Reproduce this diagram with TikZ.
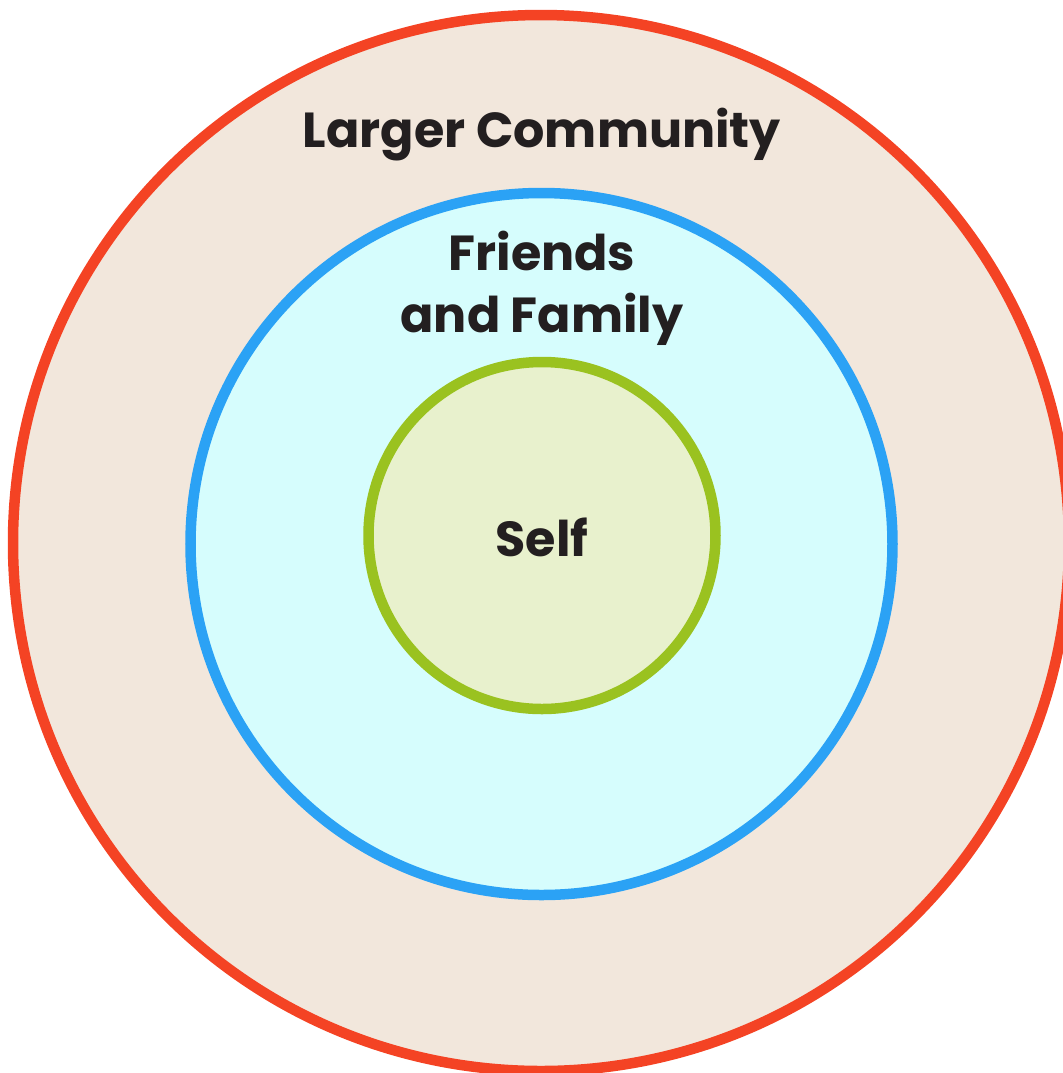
\documentclass[tikz,border=0pt]{standalone}
\usepackage{fontspec}
\setmainfont{Poppins}
\usepackage{tikz}
\usetikzlibrary{shapes.geometric, positioning}
\definecolor{commred}{HTML}{F44324}
\definecolor{commfill}{HTML}{F2E7DC}
\definecolor{famblue}{HTML}{2BA2F5}
\definecolor{famfill}{HTML}{D6FDFD}
\definecolor{selfgreen}{HTML}{9AC220}
\definecolor{selffill}{HTML}{E8F1CD}
\definecolor{textdark}{HTML}{231F20}
\tikzstyle{ring} = [circle, draw, line width=1.05mm, inner sep=0pt]
\tikzstyle{ringtext} = [font=\bfseries\fontsize{14}{17.6}\selectfont, text=textdark, align=center, anchor=base]

\begin{document}
\begin{tikzpicture}
                \useasboundingbox (0,0) rectangle (10.63,-10.73);
                \node (community) [ring, draw=commred, fill=commfill, minimum size=10.56cm] at (5.41,-5.43) {};
                \node (family) [ring, draw=famblue, fill=famfill, minimum size=7.02cm] at (5.415,-5.44) {};
                \node (self) [ring, draw=selfgreen, fill=selffill, minimum size=3.47cm] at (5.42,-5.355) {};

                \node (communitytext) [ringtext] at (5.42,-1.47) {Larger Community};
                \node (familytext) [ringtext] at (5.42,-3.32) {Friends\\and Family};
                \node (selftext) [ringtext] at (5.42,-5.56) {Self};
            \end{tikzpicture}
\end{document}
